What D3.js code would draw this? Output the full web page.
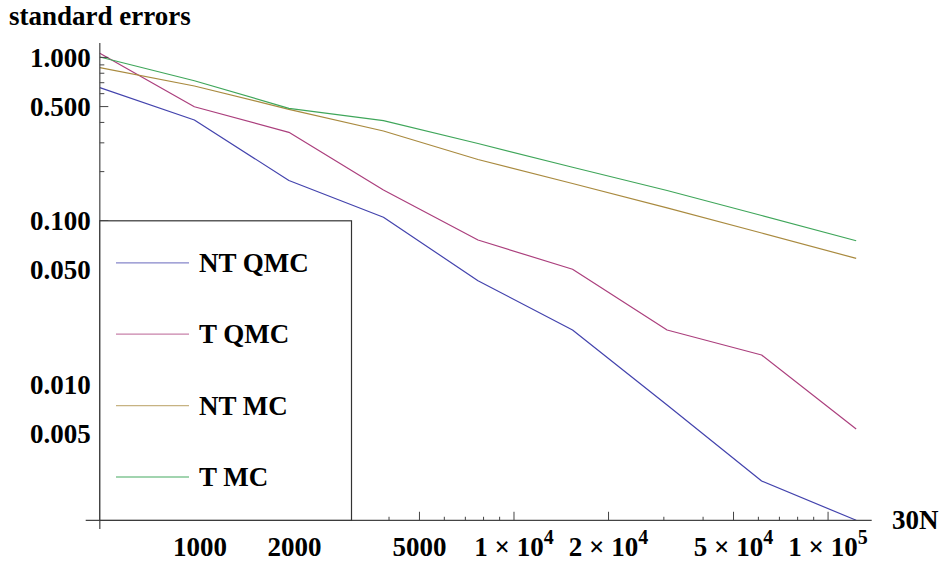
<!DOCTYPE html>
<html>
<head>
<meta charset="utf-8">
<script src="https://cdn.jsdelivr.net/npm/d3@7"></script>
<style>
  html, body { margin: 0; padding: 0; background: #fff; }
  svg text { font-family: "Liberation Serif", "Times New Roman", "DejaVu Serif", serif; font-weight: bold; fill: #000; }
</style>
</head>
<body>
<svg id="chart" width="947" height="563"></svg>
<script>
// ---- data ----
const xValues = [480, 960, 1920, 3840, 7680, 15360, 30720, 61440, 122880];
const seriesNames = ["NT QMC", "T QMC", "NT MC", "T MC"];
const ntQmc = [0.653, 0.414, 0.1765, 0.1051, 0.0430, 0.02146, 0.00746, 0.002556, 0.00147];
const tQmc  = [1.06, 0.499, 0.348, 0.1543, 0.0763, 0.0505, 0.02146, 0.01509, 0.00532];
const ntMc  = [0.865, 0.668, 0.481, 0.3544, 0.2372, 0.1692, 0.1201, 0.0842, 0.0589];
const tMc   = [1.006, 0.720, 0.488, 0.410, 0.2972, 0.2128, 0.1532, 0.1078, 0.0755];
const seriesColors = ["#4343ad", "#ab3f7d", "#a98a3f", "#3fa65a"];

const xMajorTicks = [1000, 2000, 5000, 10000, 20000, 50000, 100000];
const xMinorTicks = [600, 700, 800, 900, 3000, 4000, 6000, 7000, 8000, 9000, 30000, 40000, 60000, 70000, 80000, 90000];
const yMajorTicks = [1, 0.5, 0.1, 0.05, 0.01, 0.005];
const yMinorTicks = [0.9, 0.8, 0.7, 0.6, 0.4, 0.3, 0.2, 0.09, 0.08, 0.07, 0.06, 0.04, 0.03, 0.02, 0.009, 0.008, 0.007, 0.006, 0.004, 0.003, 0.002];
const xAxisTitle = "30N";
const yAxisTitle = "standard errors";
const xDomain = [432.8, 137700];
const yDomain = [0.0013, 1.225];
const xOrigin = 480, yOrigin = 0.00147;

const series = [ntQmc, tQmc, ntMc, tMc];

// ---- layout ----
const svg = d3.select("#chart");
const x = d3.scaleLog().domain(xDomain).range([85.7, 871.7]);
const y = d3.scaleLog().domain(yDomain).range([529, 43]);
const ax = x(xOrigin), ay = y(yOrigin);
const axisColor = "#444";

// lines
const line = d3.line().x((d, i) => x(xValues[i])).y(d => y(d));
svg.append("g").selectAll("path").data(series).join("path")
  .attr("d", d => line(d))
  .attr("fill", "none")
  .attr("stroke", (d, i) => seriesColors[i])
  .attr("stroke-width", 1.2)
  .attr("stroke-linejoin", "round");

// axes
const g = svg.append("g");
g.append("line").attr("x1", x.range()[0]).attr("x2", x.range()[1]).attr("y1", ay).attr("y2", ay)
  .attr("stroke", axisColor).attr("stroke-width", 1.2);
g.append("line").attr("x1", ax).attr("x2", ax).attr("y1", y.range()[0]).attr("y2", y.range()[1])
  .attr("stroke", axisColor).attr("stroke-width", 1.2);

// x ticks (pointing up)
g.selectAll(".xmaj").data(xMajorTicks).join("line")
  .attr("x1", d => x(d)).attr("x2", d => x(d)).attr("y1", ay).attr("y2", ay - 8.5)
  .attr("stroke", axisColor).attr("stroke-width", 1);
g.selectAll(".xmin").data(xMinorTicks).join("line")
  .attr("x1", d => x(d)).attr("x2", d => x(d)).attr("y1", ay).attr("y2", ay - 3.5)
  .attr("stroke", axisColor).attr("stroke-width", 1);
// y ticks (pointing right)
g.selectAll(".ymaj").data(yMajorTicks).join("line")
  .attr("x1", ax).attr("x2", ax + 8.5).attr("y1", d => y(d)).attr("y2", d => y(d))
  .attr("stroke", axisColor).attr("stroke-width", 1);
g.selectAll(".ymin").data(yMinorTicks).join("line")
  .attr("x1", ax).attr("x2", ax + 4.5).attr("y1", d => y(d)).attr("y2", d => y(d))
  .attr("stroke", axisColor).attr("stroke-width", 1);

// y tick labels
const fmtY = d3.format(".3f");
g.selectAll(".ylab").data(yMajorTicks).join("text")
  .attr("x", ax - 9).attr("y", d => y(d)).attr("dy", "0.35em")
  .attr("text-anchor", "end").style("font-size", "27px")
  .text(d => fmtY(d));

// x tick labels
const xl = g.selectAll(".xlab").data(xMajorTicks).join("text")
  .attr("x", d => x(d)).attr("y", ay + 36)
  .attr("text-anchor", "middle").style("font-size", "27px");
xl.each(function(d) {
  const t = d3.select(this);
  const e = Math.floor(Math.log10(d) + 1e-9);
  if (d < 10000) { t.text(String(d)); return; }
  const m = Math.round(d / Math.pow(10, e));
  t.append("tspan").text(m + " \u00d7 10");
  t.append("tspan").attr("dy", -12).style("font-size", "20px").text(String(e));
});

// axis titles
svg.append("text").attr("x", ax).attr("y", 25).attr("text-anchor", "middle")
  .style("font-size", "27px").text(yAxisTitle);
svg.append("text").attr("x", 892).attr("y", ay).attr("dy", "0.34em")
  .style("font-size", "27px").text(xAxisTitle);

// legend
const lg = svg.append("g");
const lgTop = y(0.1), lgLeft = ax, lgRight = 351.5;
lg.append("rect").attr("x", lgLeft).attr("y", lgTop)
  .attr("width", lgRight - lgLeft).attr("height", ay - lgTop)
  .attr("fill", "#fff").attr("stroke", "#333").attr("stroke-width", 1.2);
const rows = lg.selectAll("g.row").data(seriesNames).join("g")
  .attr("transform", (d, i) => `translate(0, ${lgTop + 42 + i * 71.4})`);
rows.append("line").attr("x1", 116).attr("x2", 189).attr("y1", 0).attr("y2", 0)
  .attr("stroke", (d, i) => seriesColors[i]).attr("stroke-opacity", 0.65).attr("stroke-width", 1.3);
rows.append("text").attr("x", 199).attr("y", 0).attr("dy", "0.34em")
  .style("font-size", "27px").text(d => d);
</script>
</body>
</html>
